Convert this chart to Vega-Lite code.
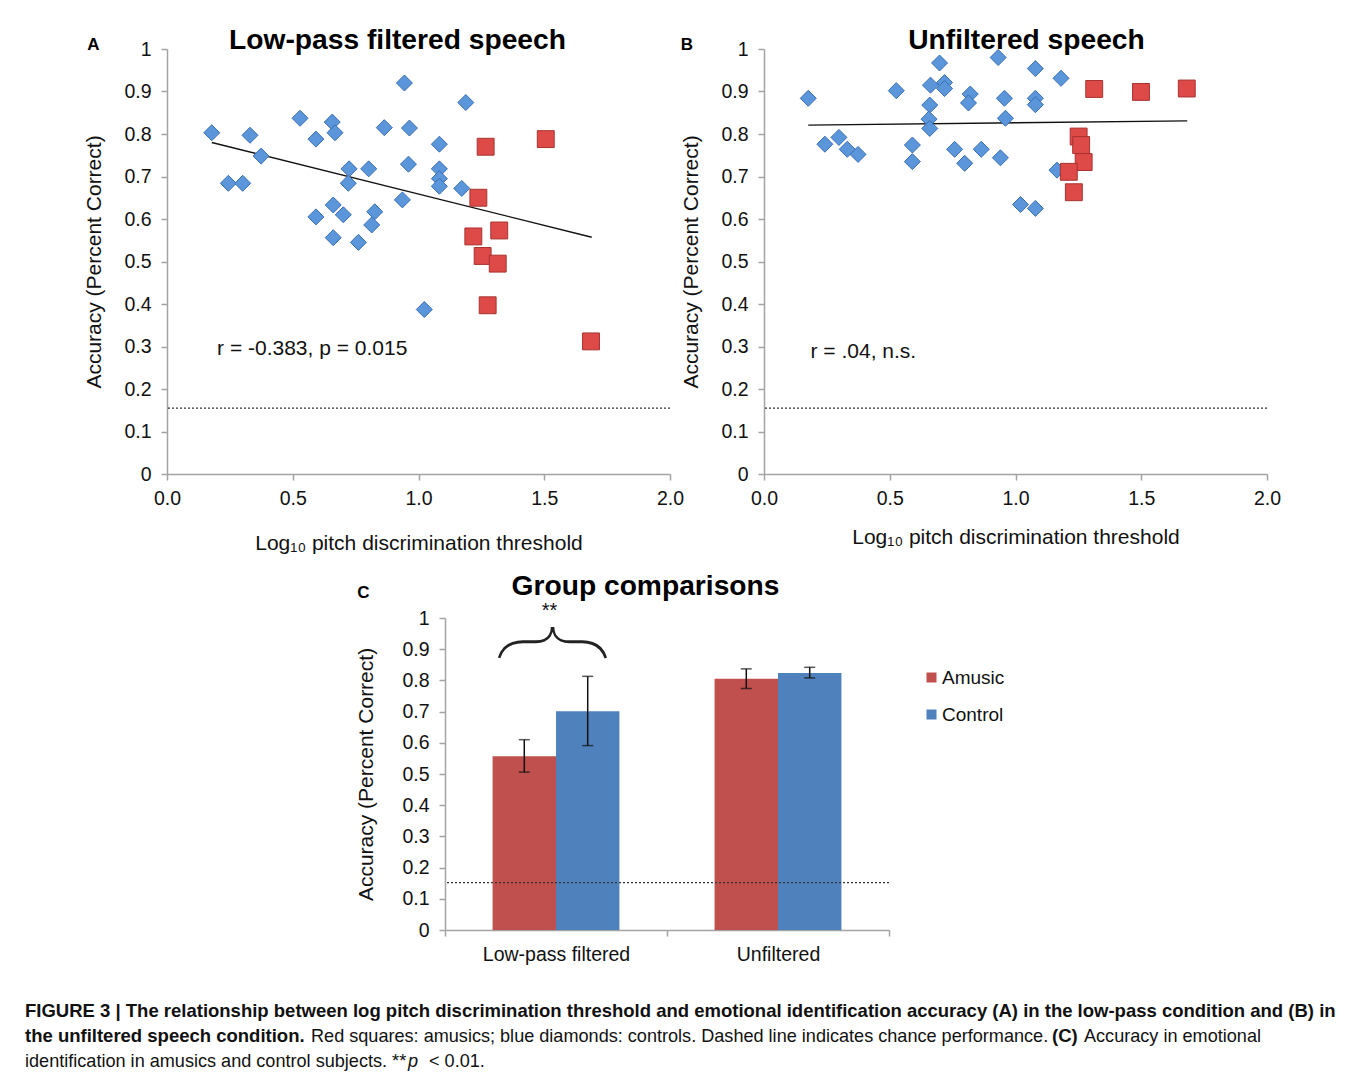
{
  "$schema": "https://vega.github.io/schema/vega-lite/v6.json",
  "background": "white",
  "padding": {"left": 25, "top": 25, "right": 5, "bottom": 5},
  "config": {
    "font": "Liberation Sans",
    "view": {"stroke": null},
    "axis": {
      "domainColor": "#a3a3a3", "tickColor": "#a3a3a3", "domainWidth": 1.5, "tickWidth": 1.5, "tickSize": 6,
      "grid": false, "labelFontSize": 19.5, "labelColor": "#111", "titleFontSize": 21, "titleFontWeight": "normal",
      "titleColor": "#111", "labelFlush": false, "labelOverlap": false
    },
    "title": {"font": "Liberation Sans", "fontWeight": "bold", "color": "#000"}
  },
  "datasets": {
    "scatter": [
      {"panel": "A", "group": "Control", "x": 0.178, "y": 0.803},
      {"panel": "A", "group": "Control", "x": 0.330, "y": 0.797},
      {"panel": "A", "group": "Control", "x": 0.374, "y": 0.748},
      {"panel": "A", "group": "Control", "x": 0.244, "y": 0.684},
      {"panel": "A", "group": "Control", "x": 0.301, "y": 0.684},
      {"panel": "A", "group": "Control", "x": 0.529, "y": 0.837},
      {"panel": "A", "group": "Control", "x": 0.592, "y": 0.788},
      {"panel": "A", "group": "Control", "x": 0.657, "y": 0.828},
      {"panel": "A", "group": "Control", "x": 0.668, "y": 0.803},
      {"panel": "A", "group": "Control", "x": 0.724, "y": 0.718},
      {"panel": "A", "group": "Control", "x": 0.721, "y": 0.684},
      {"panel": "A", "group": "Control", "x": 0.802, "y": 0.718},
      {"panel": "A", "group": "Control", "x": 0.944, "y": 0.920},
      {"panel": "A", "group": "Control", "x": 0.864, "y": 0.815},
      {"panel": "A", "group": "Control", "x": 0.964, "y": 0.814},
      {"panel": "A", "group": "Control", "x": 0.960, "y": 0.729},
      {"panel": "A", "group": "Control", "x": 1.083, "y": 0.776},
      {"panel": "A", "group": "Control", "x": 1.083, "y": 0.718},
      {"panel": "A", "group": "Control", "x": 1.083, "y": 0.695},
      {"panel": "A", "group": "Control", "x": 1.083, "y": 0.677},
      {"panel": "A", "group": "Control", "x": 1.188, "y": 0.874},
      {"panel": "A", "group": "Control", "x": 1.172, "y": 0.672},
      {"panel": "A", "group": "Control", "x": 0.936, "y": 0.645},
      {"panel": "A", "group": "Control", "x": 0.661, "y": 0.633},
      {"panel": "A", "group": "Control", "x": 0.592, "y": 0.605},
      {"panel": "A", "group": "Control", "x": 0.701, "y": 0.610},
      {"panel": "A", "group": "Control", "x": 0.826, "y": 0.617},
      {"panel": "A", "group": "Control", "x": 0.814, "y": 0.586},
      {"panel": "A", "group": "Control", "x": 0.661, "y": 0.556},
      {"panel": "A", "group": "Control", "x": 0.761, "y": 0.545},
      {"panel": "A", "group": "Control", "x": 1.023, "y": 0.387},
      {"panel": "A", "group": "Amusic", "x": 1.267, "y": 0.770},
      {"panel": "A", "group": "Amusic", "x": 1.506, "y": 0.788},
      {"panel": "A", "group": "Amusic", "x": 1.238, "y": 0.650},
      {"panel": "A", "group": "Amusic", "x": 1.218, "y": 0.559},
      {"panel": "A", "group": "Amusic", "x": 1.321, "y": 0.573},
      {"panel": "A", "group": "Amusic", "x": 1.255, "y": 0.513},
      {"panel": "A", "group": "Amusic", "x": 1.315, "y": 0.495},
      {"panel": "A", "group": "Amusic", "x": 1.275, "y": 0.397},
      {"panel": "A", "group": "Amusic", "x": 1.686, "y": 0.312},
      {"panel": "B", "group": "Control", "x": 0.176, "y": 0.884},
      {"panel": "B", "group": "Control", "x": 0.242, "y": 0.776},
      {"panel": "B", "group": "Control", "x": 0.298, "y": 0.792},
      {"panel": "B", "group": "Control", "x": 0.331, "y": 0.764},
      {"panel": "B", "group": "Control", "x": 0.374, "y": 0.752},
      {"panel": "B", "group": "Control", "x": 0.526, "y": 0.902},
      {"panel": "B", "group": "Control", "x": 0.590, "y": 0.774},
      {"panel": "B", "group": "Control", "x": 0.590, "y": 0.735},
      {"panel": "B", "group": "Control", "x": 0.662, "y": 0.915},
      {"panel": "B", "group": "Control", "x": 0.659, "y": 0.868},
      {"panel": "B", "group": "Control", "x": 0.656, "y": 0.835},
      {"panel": "B", "group": "Control", "x": 0.659, "y": 0.813},
      {"panel": "B", "group": "Control", "x": 0.698, "y": 0.967},
      {"panel": "B", "group": "Control", "x": 0.718, "y": 0.921},
      {"panel": "B", "group": "Control", "x": 0.718, "y": 0.907},
      {"panel": "B", "group": "Control", "x": 0.758, "y": 0.764},
      {"panel": "B", "group": "Control", "x": 0.798, "y": 0.731},
      {"panel": "B", "group": "Control", "x": 0.820, "y": 0.894},
      {"panel": "B", "group": "Control", "x": 0.813, "y": 0.873},
      {"panel": "B", "group": "Control", "x": 0.864, "y": 0.764},
      {"panel": "B", "group": "Control", "x": 0.931, "y": 0.980},
      {"panel": "B", "group": "Control", "x": 0.956, "y": 0.884},
      {"panel": "B", "group": "Control", "x": 0.960, "y": 0.837},
      {"panel": "B", "group": "Control", "x": 0.940, "y": 0.744},
      {"panel": "B", "group": "Control", "x": 1.020, "y": 0.634},
      {"panel": "B", "group": "Control", "x": 1.079, "y": 0.625},
      {"panel": "B", "group": "Control", "x": 1.079, "y": 0.954},
      {"panel": "B", "group": "Control", "x": 1.079, "y": 0.884},
      {"panel": "B", "group": "Control", "x": 1.079, "y": 0.869},
      {"panel": "B", "group": "Control", "x": 1.181, "y": 0.931},
      {"panel": "B", "group": "Control", "x": 1.165, "y": 0.715},
      {"panel": "B", "group": "Amusic", "x": 1.313, "y": 0.906},
      {"panel": "B", "group": "Amusic", "x": 1.499, "y": 0.899},
      {"panel": "B", "group": "Amusic", "x": 1.681, "y": 0.907},
      {"panel": "B", "group": "Amusic", "x": 1.251, "y": 0.794},
      {"panel": "B", "group": "Amusic", "x": 1.261, "y": 0.774},
      {"panel": "B", "group": "Amusic", "x": 1.271, "y": 0.734},
      {"panel": "B", "group": "Amusic", "x": 1.212, "y": 0.711},
      {"panel": "B", "group": "Amusic", "x": 1.232, "y": 0.663}
    ],
    "trend": [
      {"panel": "A", "x": 0.178, "y": 0.780},
      {"panel": "A", "x": 1.689, "y": 0.557},
      {"panel": "B", "x": 0.176, "y": 0.821},
      {"panel": "B", "x": 1.683, "y": 0.831}
    ],
    "groups": [
      {"condition": "Low-pass filtered", "group": "Amusic", "mean": 0.557, "lo": 0.506, "hi": 0.610},
      {"condition": "Low-pass filtered", "group": "Control", "mean": 0.701, "lo": 0.591, "hi": 0.813},
      {"condition": "Unfiltered", "group": "Amusic", "mean": 0.805, "lo": 0.774, "hi": 0.837},
      {"condition": "Unfiltered", "group": "Control", "mean": 0.824, "lo": 0.808, "hi": 0.842}
    ]
  },
  "spacing": 17,
  "resolve": {"scale": {"color": "independent"}, "legend": {"color": "independent"}},
  "vconcat": [
    {
      "bounds": "flush",
      "spacing": 94,
      "hconcat": [
        {"width": 48, "height": 10, "data": {"values": []}, "mark": {"type": "point", "opacity": 0}, "encoding": {}},
        {
          "width": 503, "height": 425,
          "title": {"text": "Low-pass filtered speech", "fontSize": 28.2, "dx": -21, "offset": -19},
          "layer": [
            {
              "data": {"values": [{"chance": 0.155}]},
              "mark": {"type": "rule", "strokeDash": [2, 2], "color": "#333", "strokeWidth": 1.3},
              "encoding": {"y": {"field": "chance", "type": "quantitative", "scale": {"domain": [0, 1]}}}
            },
            {
              "data": {"name": "trend"},
              "transform": [{"filter": "datum.panel === 'A'"}],
              "mark": {"type": "line", "color": "#111", "strokeWidth": 1.4},
              "encoding": {
                "x": {"field": "x", "type": "quantitative"},
                "y": {"field": "y", "type": "quantitative"}
              }
            },
            {
              "data": {"name": "scatter"},
              "transform": [{"filter": "datum.panel === 'A'"}],
              "mark": {"type": "point", "filled": true, "opacity": 1, "strokeWidth": 1},
              "encoding": {
                "x": {"field": "x", "type": "quantitative", "scale": {"domain": [0, 2], "nice": false},
                  "axis": {"values": [0, 0.5, 1, 1.5, 2], "format": ".1f", "labelPadding": 9, "titlePadding": 25, "title": "Log₁₀ pitch discrimination threshold"}},
                "y": {"field": "y", "type": "quantitative", "scale": {"domain": [0, 1], "nice": false},
                  "axis": {"values": [0, 0.1, 0.2, 0.3, 0.4, 0.5, 0.6, 0.7, 0.8, 0.9, 1], "format": "~g", "labelPadding": 10, "titlePadding": 19, "title": "Accuracy (Percent Correct)"}},
                "shape": {"field": "group", "type": "nominal", "scale": {"domain": ["Control", "Amusic"], "range": ["diamond", "square"]}, "legend": null},
                "fill": {"field": "group", "type": "nominal", "scale": {"domain": ["Control", "Amusic"], "range": ["#5b95da", "#dd4a47"]}, "legend": null},
                "stroke": {"field": "group", "type": "nominal", "scale": {"domain": ["Control", "Amusic"], "range": ["#3a6fb3", "#a8322f"]}, "legend": null},
                "size": {"field": "group", "type": "nominal", "scale": {"domain": ["Control", "Amusic"], "range": [256, 285]}, "legend": null}
              }
            },
            {
              "data": {"values": [{"label": "r = -0.383, p = 0.015", "lx": 0.199, "ly": 0.294}]},
              "mark": {"type": "text", "align": "left", "baseline": "middle", "fontSize": 21, "color": "#111"},
              "encoding": {
                "x": {"field": "lx", "type": "quantitative"},
                "y": {"field": "ly", "type": "quantitative"},
                "text": {"field": "label"}
              }
            },
            {
              "data": {"values": [{"letter": "A", "lx": -0.293, "ly": 1.009}]},
              "mark": {"type": "text", "align": "center", "baseline": "middle", "fontSize": 17, "fontWeight": "bold", "color": "#000"},
              "encoding": {
                "x": {"field": "lx", "type": "quantitative"},
                "y": {"field": "ly", "type": "quantitative"},
                "text": {"field": "letter"}
              }
            }
          ]
        },
        {
          "width": 503, "height": 425,
          "title": {"text": "Unfiltered speech", "fontSize": 28.2, "dx": 11, "offset": -19},
          "layer": [
            {
              "data": {"values": [{"chance": 0.155}]},
              "mark": {"type": "rule", "strokeDash": [2, 2], "color": "#333", "strokeWidth": 1.3},
              "encoding": {"y": {"field": "chance", "type": "quantitative", "scale": {"domain": [0, 1]}}}
            },
            {
              "data": {"name": "trend"},
              "transform": [{"filter": "datum.panel === 'B'"}],
              "mark": {"type": "line", "color": "#111", "strokeWidth": 1.4},
              "encoding": {
                "x": {"field": "x", "type": "quantitative"},
                "y": {"field": "y", "type": "quantitative"}
              }
            },
            {
              "data": {"name": "scatter"},
              "transform": [{"filter": "datum.panel === 'B'"}],
              "mark": {"type": "point", "filled": true, "opacity": 1, "strokeWidth": 1},
              "encoding": {
                "x": {"field": "x", "type": "quantitative", "scale": {"domain": [0, 2], "nice": false},
                  "axis": {"values": [0, 0.5, 1, 1.5, 2], "format": ".1f", "labelPadding": 9, "titlePadding": 19, "title": "Log₁₀ pitch discrimination threshold"}},
                "y": {"field": "y", "type": "quantitative", "scale": {"domain": [0, 1], "nice": false},
                  "axis": {"values": [0, 0.1, 0.2, 0.3, 0.4, 0.5, 0.6, 0.7, 0.8, 0.9, 1], "format": "~g", "labelPadding": 10, "titlePadding": 19, "title": "Accuracy (Percent Correct)"}},
                "shape": {"field": "group", "type": "nominal", "scale": {"domain": ["Control", "Amusic"], "range": ["diamond", "square"]}, "legend": null},
                "fill": {"field": "group", "type": "nominal", "scale": {"domain": ["Control", "Amusic"], "range": ["#5b95da", "#dd4a47"]}, "legend": null},
                "stroke": {"field": "group", "type": "nominal", "scale": {"domain": ["Control", "Amusic"], "range": ["#3a6fb3", "#a8322f"]}, "legend": null},
                "size": {"field": "group", "type": "nominal", "scale": {"domain": ["Control", "Amusic"], "range": [256, 285]}, "legend": null}
              }
            },
            {
              "data": {"values": [{"label": "r = .04, n.s.", "lx": 0.185, "ly": 0.287}]},
              "mark": {"type": "text", "align": "left", "baseline": "middle", "fontSize": 21, "color": "#111"},
              "encoding": {
                "x": {"field": "lx", "type": "quantitative"},
                "y": {"field": "ly", "type": "quantitative"},
                "text": {"field": "label"}
              }
            },
            {
              "data": {"values": [{"letter": "B", "lx": -0.307, "ly": 1.009}]},
              "mark": {"type": "text", "align": "center", "baseline": "middle", "fontSize": 17, "fontWeight": "bold", "color": "#000"},
              "encoding": {
                "x": {"field": "lx", "type": "quantitative"},
                "y": {"field": "ly", "type": "quantitative"},
                "text": {"field": "letter"}
              }
            }
          ]
        }
      ]
    },
    {
      "bounds": "flush",
      "spacing": 10,
      "resolve": {"scale": {"color": "independent"}, "legend": {"color": "independent"}},
      "hconcat": [
        {"width": 410, "height": 10, "data": {"values": []}, "mark": {"type": "point", "opacity": 0}, "encoding": {}},
        {
          "width": 444, "height": 312,
          "title": {"text": "Group comparisons", "fontSize": 28.2, "dx": -21.5, "offset": -17},
          "layer": [
            {
              "data": {"name": "groups"},
              "mark": {"type": "bar"},
              "encoding": {
                "x": {"field": "condition", "type": "nominal", "sort": ["Low-pass filtered", "Unfiltered"],
                  "scale": {"paddingInner": 0, "paddingOuter": 0},
                  "axis": {"title": null, "labelAngle": 0, "labelFontSize": 19.5, "labelPadding": 9, "tickBand": "extent"}},
                "xOffset": {"field": "group", "type": "nominal", "sort": ["Amusic", "Control"], "scale": {"paddingInner": 0, "paddingOuter": 0.75}},
                "y": {"field": "mean", "type": "quantitative", "scale": {"domain": [0, 1], "nice": false},
                  "axis": {"values": [0, 0.1, 0.2, 0.3, 0.4, 0.5, 0.6, 0.7, 0.8, 0.9, 1], "format": "~g", "labelPadding": 10, "labelOverlap": false, "titlePadding": 25, "title": "Accuracy (Percent Correct)"}},
                "color": {"field": "group", "type": "nominal", "scale": {"domain": ["Amusic", "Control"], "range": ["#c0504d", "#4f81bd"]},
                  "legend": {"title": null, "orient": "none", "legendX": 477, "legendY": 50, "symbolType": "square", "symbolSize": 100, "symbolStrokeWidth": 0, "labelFontSize": 19, "labelColor": "#111", "rowPadding": 17, "labelOffset": 1}}
              }
            },
            {
              "data": {"name": "groups"},
              "mark": {"type": "rule", "color": "#111", "strokeWidth": 1.5},
              "encoding": {
                "x": {"field": "condition", "type": "nominal", "sort": ["Low-pass filtered", "Unfiltered"]},
                "xOffset": {"field": "group", "type": "nominal", "sort": ["Amusic", "Control"]},
                "y": {"field": "lo", "type": "quantitative",
                  "axis": {"values": [0, 0.1, 0.2, 0.3, 0.4, 0.5, 0.6, 0.7, 0.8, 0.9, 1], "format": "~g", "labelPadding": 10, "labelOverlap": false, "titlePadding": 25, "title": "Accuracy (Percent Correct)"}},
                "y2": {"field": "hi"}
              }
            },
            {
              "data": {"name": "groups"},
              "mark": {"type": "tick", "color": "#111", "size": 11, "thickness": 1.5},
              "encoding": {
                "x": {"field": "condition", "type": "nominal", "sort": ["Low-pass filtered", "Unfiltered"]},
                "xOffset": {"field": "group", "type": "nominal", "sort": ["Amusic", "Control"]},
                "y": {"field": "lo", "type": "quantitative",
                  "axis": {"values": [0, 0.1, 0.2, 0.3, 0.4, 0.5, 0.6, 0.7, 0.8, 0.9, 1], "format": "~g", "labelPadding": 10, "labelOverlap": false, "titlePadding": 25, "title": "Accuracy (Percent Correct)"}}
              }
            },
            {
              "data": {"name": "groups"},
              "mark": {"type": "tick", "color": "#111", "size": 11, "thickness": 1.5},
              "encoding": {
                "x": {"field": "condition", "type": "nominal", "sort": ["Low-pass filtered", "Unfiltered"]},
                "xOffset": {"field": "group", "type": "nominal", "sort": ["Amusic", "Control"]},
                "y": {"field": "hi", "type": "quantitative",
                  "axis": {"values": [0, 0.1, 0.2, 0.3, 0.4, 0.5, 0.6, 0.7, 0.8, 0.9, 1], "format": "~g", "labelPadding": 10, "labelOverlap": false, "titlePadding": 25, "title": "Accuracy (Percent Correct)"}}
              }
            },
            {
              "data": {"values": [{"chance": 0.152}]},
              "mark": {"type": "rule", "strokeDash": [2, 2], "color": "#333", "strokeWidth": 1.3},
              "encoding": {"y": {"field": "chance", "type": "quantitative",
                "axis": {"values": [0, 0.1, 0.2, 0.3, 0.4, 0.5, 0.6, 0.7, 0.8, 0.9, 1], "format": "~g", "labelPadding": 10, "labelOverlap": false, "titlePadding": 25, "title": "Accuracy (Percent Correct)"}}}
            },
            {
              "data": {"values": [{"condition": "Low-pass filtered", "sig": "**", "sy": 1.024}]},
              "mark": {"type": "text", "fontSize": 20, "baseline": "middle", "dx": -6.5, "color": "#111"},
              "encoding": {
                "x": {"field": "condition", "type": "nominal"},
                "y": {"field": "sy", "type": "quantitative",
                  "axis": {"values": [0, 0.1, 0.2, 0.3, 0.4, 0.5, 0.6, 0.7, 0.8, 0.9, 1], "format": "~g", "labelPadding": 10, "labelOverlap": false, "titlePadding": 25, "title": "Accuracy (Percent Correct)"}},
                "text": {"field": "sig"}
              }
            },
            {
              "data": {"values": [{"condition": "Low-pass filtered", "brace": "}", "by": 0.927}]},
              "mark": {"type": "text", "font": "Roboto", "fontWeight": 100, "fontSize": 110, "angle": 270, "align": "center", "baseline": "middle", "dy": -6.5, "color": "#222"},
              "encoding": {
                "x": {"field": "condition", "type": "nominal"},
                "y": {"field": "by", "type": "quantitative",
                  "axis": {"values": [0, 0.1, 0.2, 0.3, 0.4, 0.5, 0.6, 0.7, 0.8, 0.9, 1], "format": "~g", "labelPadding": 10, "labelOverlap": false, "titlePadding": 25, "title": "Accuracy (Percent Correct)"}},
                "text": {"field": "brace"}
              }
            },
            {
              "data": {"values": [{"condition": "Low-pass filtered", "letter": "C", "cy": 1.080}]},
              "mark": {"type": "text", "fontSize": 17, "fontWeight": "bold", "baseline": "middle", "align": "center", "dx": -192.5, "color": "#000"},
              "encoding": {
                "x": {"field": "condition", "type": "nominal"},
                "y": {"field": "cy", "type": "quantitative",
                  "axis": {"values": [0, 0.1, 0.2, 0.3, 0.4, 0.5, 0.6, 0.7, 0.8, 0.9, 1], "format": "~g", "labelPadding": 10, "labelOverlap": false, "titlePadding": 25, "title": "Accuracy (Percent Correct)"}},
                "text": {"field": "letter"}
              }
            }
          ]
        }
      ]
    },
    {
      "width": 1311, "height": 95,
      "layer": [
        {
          "data": {"values": [{"t": "FIGURE 3 | The relationship between log pitch discrimination threshold and emotional identification accuracy (A) in the low-pass condition and (B) in"}]},
          "mark": {"type": "text", "align": "left", "baseline": "alphabetic", "fontSize": 18.5, "fontWeight": "bold", "color": "#111"},
          "encoding": {"text": {"field": "t"}, "x": {"value": 0}, "y": {"value": 36}}
        },
        {
          "data": {"values": [{"t": "the unfiltered speech condition."}]},
          "mark": {"type": "text", "align": "left", "baseline": "alphabetic", "fontSize": 18.5, "fontWeight": "bold", "color": "#111"},
          "encoding": {"text": {"field": "t"}, "x": {"value": 0}, "y": {"value": 61}}
        },
        {
          "data": {"values": [{"t": "Red squares: amusics; blue diamonds: controls. Dashed line indicates chance performance."}]},
          "mark": {"type": "text", "align": "left", "baseline": "alphabetic", "fontSize": 18.1, "color": "#111"},
          "encoding": {"text": {"field": "t"}, "x": {"value": 286}, "y": {"value": 61}}
        },
        {
          "data": {"values": [{"t": "(C)"}]},
          "mark": {"type": "text", "align": "left", "baseline": "alphabetic", "fontSize": 18.5, "fontWeight": "bold", "color": "#111"},
          "encoding": {"text": {"field": "t"}, "x": {"value": 1027}, "y": {"value": 61}}
        },
        {
          "data": {"values": [{"t": "Accuracy in emotional"}]},
          "mark": {"type": "text", "align": "left", "baseline": "alphabetic", "fontSize": 18.1, "color": "#111"},
          "encoding": {"text": {"field": "t"}, "x": {"value": 1059}, "y": {"value": 61}}
        },
        {
          "data": {"values": [{"t": "identification in amusics and control subjects. **"}]},
          "mark": {"type": "text", "align": "left", "baseline": "alphabetic", "fontSize": 18.1, "color": "#111"},
          "encoding": {"text": {"field": "t"}, "x": {"value": 0}, "y": {"value": 86}}
        },
        {
          "data": {"values": [{"t": "p"}]},
          "mark": {"type": "text", "align": "left", "baseline": "alphabetic", "fontSize": 18.1, "fontStyle": "italic", "color": "#111"},
          "encoding": {"text": {"field": "t"}, "x": {"value": 383}, "y": {"value": 86}}
        },
        {
          "data": {"values": [{"t": "< 0.01."}]},
          "mark": {"type": "text", "align": "left", "baseline": "alphabetic", "fontSize": 18.1, "color": "#111"},
          "encoding": {"text": {"field": "t"}, "x": {"value": 404}, "y": {"value": 86}}
        }
      ]
    }
  ]
}
